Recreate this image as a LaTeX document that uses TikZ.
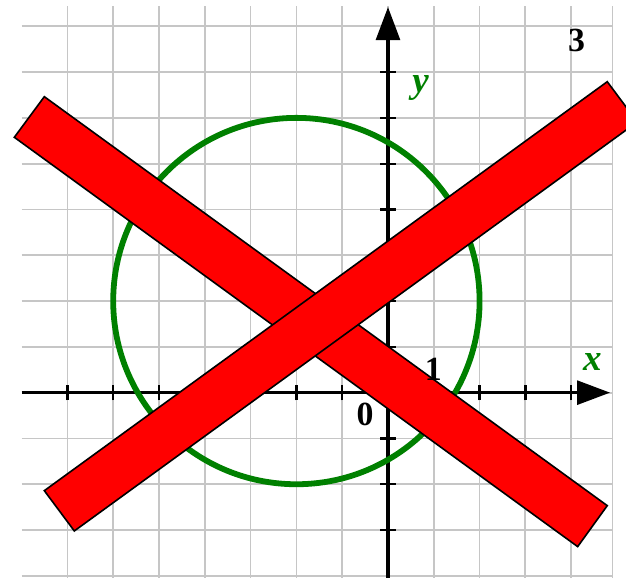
\documentclass[tikz,border=0pt]{standalone}
\usepackage{fontspec}
\setmainfont{Liberation Serif}
\usetikzlibrary{
  arrows.meta, % Triangle arrow tips on the axes
  calc         % coordinate calculations
}
\definecolor{plotgreen}{RGB}{0,128,0}
\tikzset{
  grid line/.style={
    draw=gray!45,
    line width=1.1pt
  },
  axis line/.style={
    -{Triangle[length=0.72cm, width=0.52cm]},
    line width=2pt
  },
  axis tick/.style={
    line width=1.4pt
  },
  circle curve/.style={
    draw=plotgreen,
    line width=3.6pt
  },
  cross bar/.style={
    fill=red,
    draw=black,
    line width=1pt,
    line join=miter
  },
  num label/.style={
    font=\fontsize{21}{21}\selectfont\bfseries,
    inner sep=0pt
  },
  var label/.style={
    font=\fontsize{23}{23}\selectfont\bfseries\itshape,
    text=plotgreen,
    inner sep=0pt
  }
}

\begin{document}
\begin{tikzpicture}[line join=round]
  % picture frame, same proportions as the grid sheet
  \useasboundingbox (-8.472, -4.046) rectangle (5.197, 8.574);
  \def\tk{0.17}

  % ===================================
  % background grid
  % ===================================
  \foreach \j in {-4,...,8} {
    \draw[grid line] (-8, \j) -- (4.9, \j);
  }
  \foreach \i in {-7,...,4, 4.9} {
    \draw[grid line] (\i, -4.05) -- (\i, 8.45);
  }

  % ===================================
  % axes with tick marks
  % ===================================
  \coordinate (O) at (0, 0);
  \coordinate (Xs) at (-8, 0);
  \coordinate (Xe) at (4.85, 0);
  \coordinate (Ys) at (0, -4.05);
  \coordinate (Ye) at (0, 8.42);
  \draw[axis line] (Xs) -- (Xe);
  \draw[axis line] (Ys) -- (Ye);
  \foreach \i in {-7,...,-1, 1, 2, 3, 4} {
    \draw[axis tick] (\i, -\tk) -- (\i, \tk);
  }
  \foreach \j in {-3,...,-1, 1, 2, ..., 7} {
    \draw[axis tick] (-\tk, \j) -- (\tk, \j);
  }

  % ===================================
  % the circle, centre (-2,2), radius 4
  % ===================================
  \coordinate (C) at (-2, 2);
  \draw[circle curve] (C) circle[radius=4];

  % ===================================
  % red cross over the whole picture
  % ===================================
  % bar from upper left to lower right
  \coordinate (A1) at (-7.504, 6.463); % top corner
  \coordinate (A2) at (4.788, -2.467); % right corner
  \coordinate (A3) at (4.142, -3.362); % bottom corner
  \coordinate (A4) at (-8.159, 5.576); % left corner
  \draw[cross bar] (A1) -- (A2) -- (A3) -- (A4) -- cycle;

  % bar from lower left to upper right
  \coordinate (B1) at (-7.504, -2.140); % left corner
  \coordinate (B2) at (4.788, 6.790);   % top corner
  \coordinate (B3) at (5.443, 5.911);   % right corner
  \coordinate (B4) at (-6.849, -3.020); % bottom corner
  \draw[cross bar] (B1) -- (B2) -- (B3) -- (B4) -- cycle;

  % ===================================
  % labels
  % ===================================
  \node[num label] (num3) at (4.12, 7.70) {3};
  \node[num label] (one) at (0.99, 0.52) {1};
  \node[num label] (zero) at (-0.50, -0.47) {0};
  \node[var label] (xlab) at (4.465, 0.664) {x};
  \node[var label] (ylab) at (0.71, 6.66) {y};

\end{tikzpicture}
\end{document}
